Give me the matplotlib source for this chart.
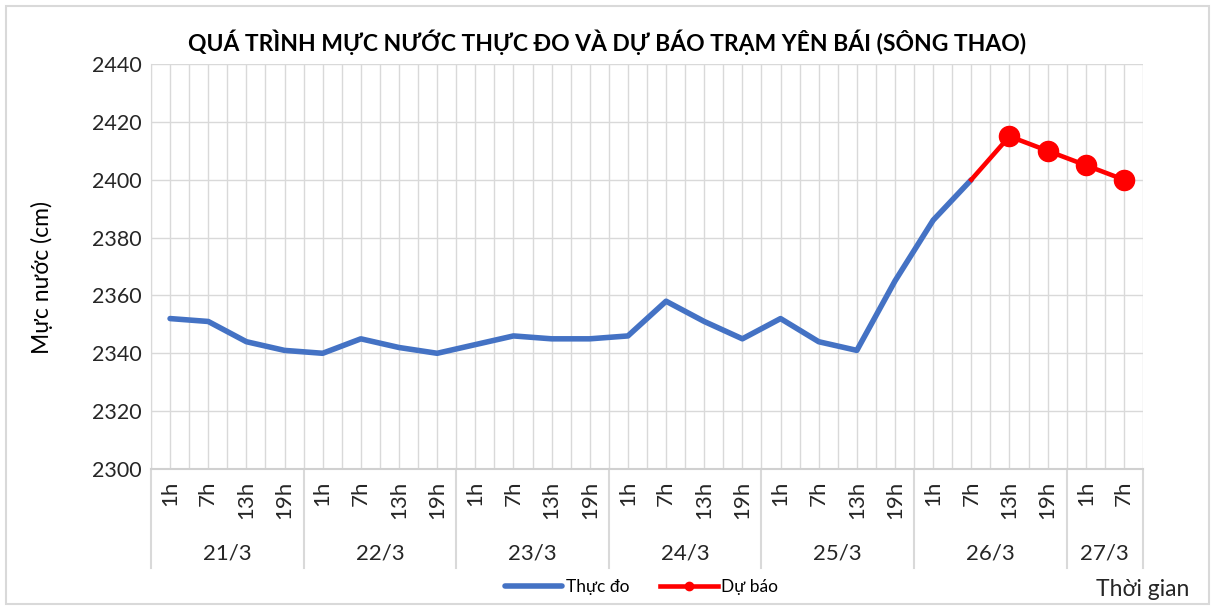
import matplotlib
matplotlib.use("Agg")
import matplotlib.pyplot as plt
import matplotlib.transforms as mtransforms
from matplotlib.lines import Line2D
from matplotlib.patches import Rectangle
import numpy as np

plt.rcParams['font.family'] = ['Lato', 'DejaVu Sans']

days = ["21/3", "22/3", "23/3", "24/3", "25/3", "26/3", "27/3"]
hours_per_day = [["1h", "7h", "13h", "19h"]] * 6 + [["1h", "7h"]]
hour_labels = [h for hs in hours_per_day for h in hs]

thuc_do = [2352, 2351, 2344, 2341, 2340, 2345, 2342, 2340, 2343, 2346, 2345, 2345,
           2346, 2358, 2351, 2345, 2352, 2344, 2341, 2365, 2386, 2400]
du_bao = [2400, 2415, 2410, 2405, 2400]
du_bao_start = 21

title = "QUÁ TRÌNH MỰC NƯỚC THỰC ĐO VÀ DỰ BÁO TRẠM YÊN BÁI (SÔNG THAO)"
ylabel = "Mực nước (cm)"
xlabel = "Thời gian"
yticks = [2300, 2320, 2340, 2360, 2380, 2400, 2420, 2440]

fig = plt.figure(figsize=(12.15, 6.08), dpi=100)
fig.patches.append(Rectangle((0.005, 0.006), 0.99, 0.984, transform=fig.transFigure,
                             fill=False, edgecolor='#D9D9D9', linewidth=1.5))
ax = fig.add_axes([151/1215, 1-469/608, (1143-151)/1215, (469-64)/608])

n = len(hour_labels)
x_td = np.arange(len(thuc_do))
x_db = np.arange(du_bao_start, du_bao_start + len(du_bao))

ax.plot(x_td, thuc_do, color='#4472C4', linewidth=4.0, solid_capstyle='round', zorder=3)
ax.plot(x_db, du_bao, color='#FF0000', linewidth=3.3, zorder=4)
ax.plot(x_db[1:], du_bao[1:], linestyle='none', marker='o', markersize=14.5,
        color='#FF0000', zorder=5)

ax.set_xlim(-0.5, n - 0.5)
ax.set_ylim(2300, 2440)
ax.set_yticks(yticks)
ax.set_yticklabels([str(v) for v in yticks], fontsize=15.5, color='#262626')
ax.set_xticks(np.arange(-0.5, n, 0.5))
ax.set_xticklabels([])
ax.tick_params(axis='both', length=0, pad=7)
ax.grid(True, color='#D9D9D9', linewidth=1.0, zorder=0)
for s in ['top', 'right']:
    ax.spines[s].set_visible(False)
ax.spines['left'].set_color('#D9D9D9')
ax.spines['bottom'].set_color('#D0D0D0')
ax.spines['bottom'].set_linewidth(1.5)

fig.text(0.5, 1-42/608, title, fontsize=16.5, fontweight='bold', color='#000000',
         ha='center', va='center')
fig.text(42/1215, 1-277/608, ylabel, rotation=90, fontsize=16.5, ha='center', va='center',
         color='#000000')
fig.text(1143/1215, 1-590/608, xlabel, fontsize=16.5, ha='center', va='center', color='#262626')

# multi-level category labels
trans = mtransforms.blended_transform_factory(ax.transData, fig.transFigure)
for i, h in enumerate(hour_labels):
    ax.text(i, 1-481/608, h, rotation=90, ha='center', va='top', fontsize=16,
            color='#262626', transform=trans)
start = 0
bounds = [-0.5]
for d, hs in zip(days, hours_per_day):
    end = start + len(hs)
    ax.text((start + end - 1) / 2, 1-553/608, d, ha='center', va='center', fontsize=16,
            color='#262626', transform=trans)
    bounds.append(end - 0.5)
    start = end
for b in bounds:
    ax.add_line(Line2D([b, b], [1-469/608, 1-568/608], transform=trans, color='#D9D9D9',
                       linewidth=1.5, clip_on=False))

handles = [Line2D([], [], color='#4472C4', linewidth=4.0, solid_capstyle='round'),
           Line2D([], [], color='#FF0000', linewidth=3.3, marker='o', markersize=6)]
fig.legend(handles, ["Thực đo", "Dự báo"], loc='center', bbox_to_anchor=(0.528, 1-587/608),
           ncol=2, frameon=False, fontsize=12.5, handlelength=3.3, handletextpad=0.2,
           columnspacing=1.8)

fig.savefig("out.png", dpi=100)
